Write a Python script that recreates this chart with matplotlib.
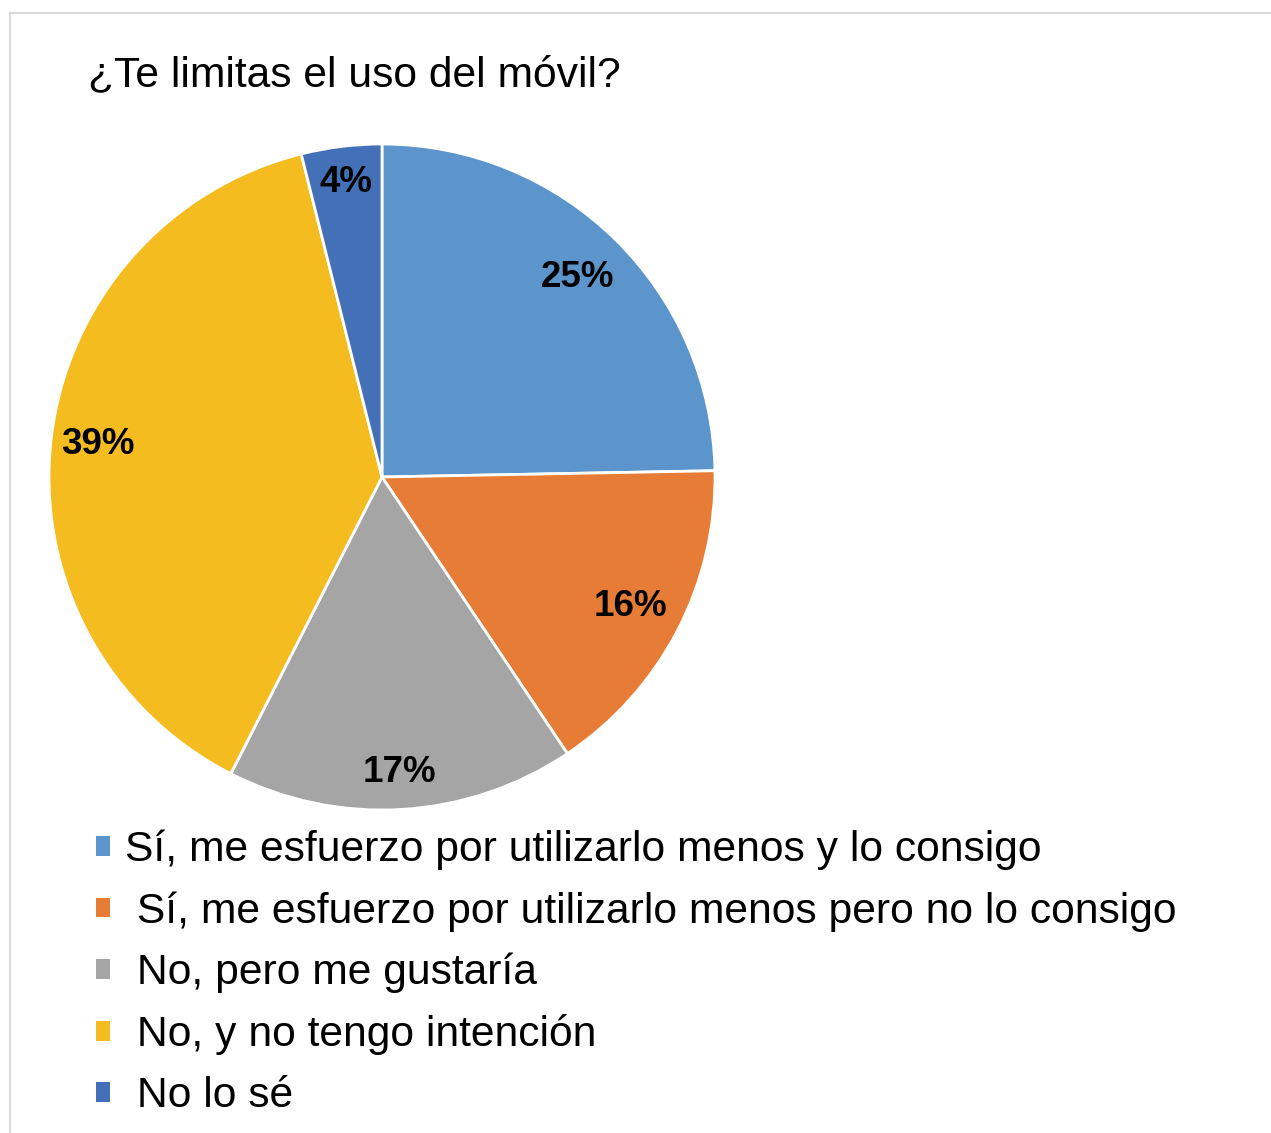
import matplotlib.pyplot as plt
from matplotlib.patches import Rectangle
import numpy as np

plt.rcParams['font.family'] = ['Liberation Sans', 'DejaVu Sans']

title = '¿Te limitas el uso del móvil?'
labels = ['Sí, me esfuerzo por utilizarlo menos y lo consigo',
          ' Sí, me esfuerzo por utilizarlo menos pero no lo consigo',
          ' No, pero me gustaría',
          ' No, y no tengo intención',
          ' No lo sé']
values = [24.7, 15.9, 16.9, 38.6, 3.9]
colors = ['#5B95CB', '#E67C35', '#A5A5A5', '#F5BC1F', '#4470B8']
label_r = [0.84, 0.84, 0.89, 0.86, 0.89]

W, H = 1271, 1133
fig = plt.figure(figsize=(W / 100, H / 100), dpi=100)

# light chart border (runs off the right/bottom edge)
fig.patches.append(Rectangle((10 / W, -0.1), 2, 1 - 13 / H + 0.1,
                             transform=fig.transFigure, fill=False,
                             edgecolor='#d9d9d9', linewidth=1.5))

cx, cy, r = 382, 477, 333
ax = fig.add_axes([(cx - r) / W, (H - cy - r) / H, 2 * r / W, 2 * r / H])
wedges, _ = ax.pie(values, colors=colors, startangle=90, counterclock=False,
                   radius=1, wedgeprops=dict(edgecolor='white', linewidth=2))
ax.set_xlim(-1, 1)
ax.set_ylim(-1, 1)
ax.set_aspect('equal')

total = sum(values)
for w, v, rr in zip(wedges, values, label_r):
    ang = np.deg2rad((w.theta1 + w.theta2) / 2)
    ax.text(rr * np.cos(ang), rr * np.sin(ang), f'{v / total * 100:.0f}%',
            ha='center', va='center', fontsize=26.5, fontweight='bold')

fig.text(88 / W, 1 - 75 / H, title, fontsize=30.7, ha='left', va='center')

handles = [Rectangle((0, 0), 1, 1, facecolor=c) for c in colors]
fig.legend(handles, labels, loc='upper left', bbox_to_anchor=(96 / W, 1 - 830 / H),
           frameon=False, fontsize=30.7, handlelength=0.33, handleheight=0.33,
           handletextpad=0.35, labelspacing=0.49, borderaxespad=0, borderpad=0)

fig.savefig('out.png', dpi=100)
